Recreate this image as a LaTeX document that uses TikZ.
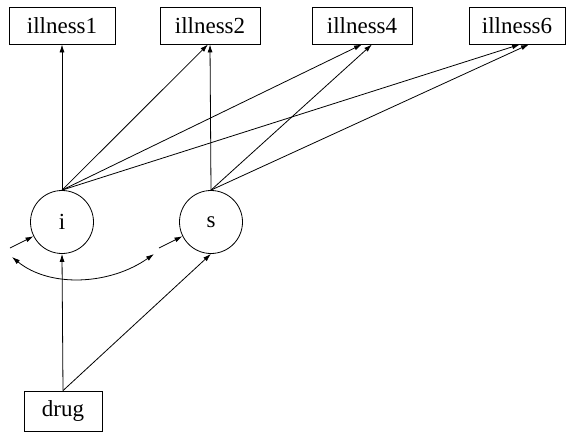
\documentclass[tikz,border=0pt]{standalone}
\usepackage{fontspec}
\setmainfont{Liberation Serif}
\usetikzlibrary{arrows.meta,positioning,calc}
\tikzset{
  obsbox/.style   = {draw, rectangle, minimum width=100pt, minimum height=37pt,
                     inner sep=0pt, align=center},
  latcirc/.style  = {draw, circle, inner sep=0pt, minimum size=63pt},
  regarrow/.style = {-{Latex[length=8pt,width=5pt]}},
  covarrow/.style = {{Latex[length=8pt,width=5pt]}-{Latex[length=8pt,width=5pt]}},
}

\begin{document}
\begin{tikzpicture}[x=1pt,y=-1pt,line width=0.8pt,font=\fontsize{23}{27}\selectfont]
\useasboundingbox (0,0) rectangle (567,432);
% outcomes
\node[obsbox, minimum width=106pt] (ill1) at (62,25.5) {illness1};
\node[obsbox] (ill2) at (210,25.5) {illness2};
\node[obsbox] (ill4) at (362,25.5) {illness4};
\node[obsbox, minimum width=96pt] (ill6) at (517,25.5) {illness6};
% growth factors
\node[latcirc] (i) at (62,222) {i};
\node[latcirc] (s) at (211,222) {s};
% covariate
\node[obsbox, minimum width=78pt, minimum height=40pt] (drug) at (63,411) {drug};
% residuals
\coordinate (ri) at (10,248);
\coordinate (rs) at (159,248);
\coordinate (ci) at (12,257);
\coordinate (cs) at (154,254);

\draw[regarrow] (i.north) -- (ill1.south);
\draw[regarrow] (i.north) -- ($(ill2.south)+(-2,0)$);
\draw[regarrow] (i.north) -- (ill4.south);
\draw[regarrow] (i.north) -- ($(ill6.south)+(3,0)$);
\draw[regarrow] (s.north) -- (ill2.south);
\draw[regarrow] (s.north) -- ($(ill4.south)+(10,0)$);
\draw[regarrow] (s.north) -- ($(ill6.south)+(12,0)$);

\draw[regarrow] (ri) -- (i);
\draw[regarrow] (rs) -- (s);
\draw[covarrow] (ci) .. controls (50,288) and (110,285) .. (cs);

\draw[regarrow] (drug.north) -- (i.south);
\draw[regarrow] (drug.north) -- (s.south);
\end{tikzpicture}
\end{document}
